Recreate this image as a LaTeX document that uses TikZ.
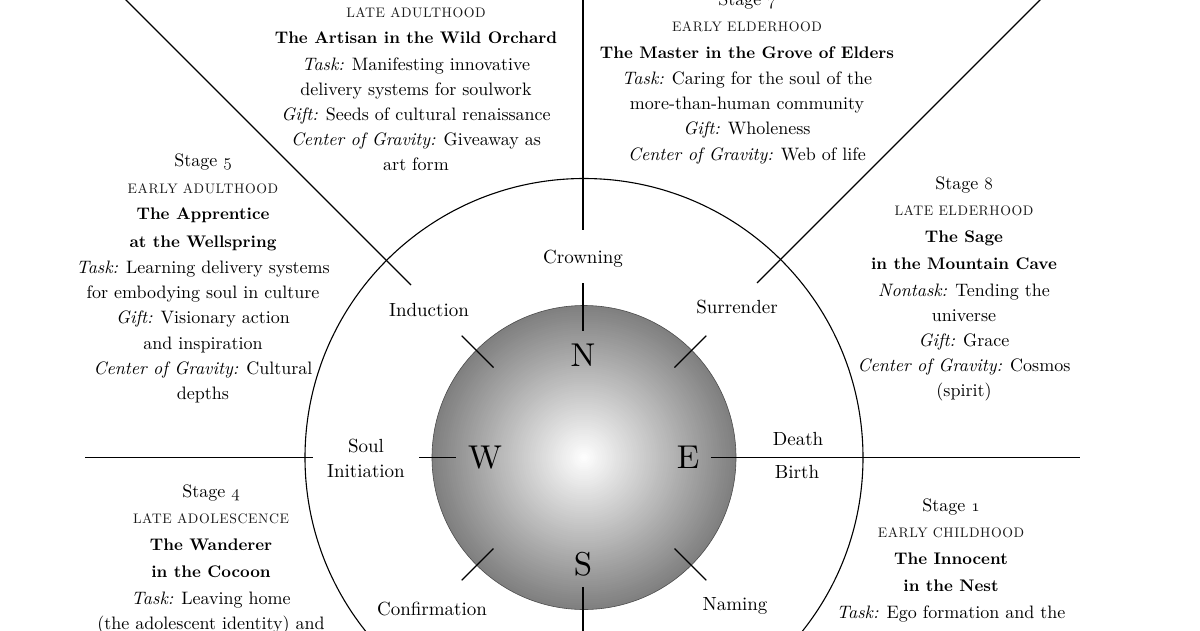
\documentclass[tikz,border=0pt]{standalone}
\usepackage{fontspec}
\setmainfont{lmroman10-regular.otf}[BoldFont=lmroman10-bold.otf, ItalicFont=lmroman10-italic.otf, BoldItalicFont=lmroman10-bolditalic.otf]
\newcommand\osn[1]{{\usefont{OML}{cmm}{m}{it}#1}}
\newcommand\agecap[1]{{\fontsize{13.8}{25}\selectfont\addfontfeature{LetterSpace=4}\color{black!90}#1}}
\newcommand\ttl[1]{{\fontsize{16.8}{25}\bfseries #1}}
\newenvironment{blk}{\fontsize{18}{25.2}\selectfont\begin{tabular}[t]{@{}c@{}}}{\end{tabular}}
\begin{document}
\begin{tikzpicture}[x=1pt,y=-1pt,
  block/.style={anchor=base, inner sep=0pt},
  lbl/.style={anchor=base, inner sep=0pt, font=\fontsize{19}{22}\selectfont},
  dir/.style={anchor=base, inner sep=0pt, font=\fontsize{33}{36}\selectfont},
  ln/.style={line width=1.1pt, black}]
\useasboundingbox (0,0) rectangle (1200,630);
\fill[white] (0,0) rectangle (1200,630);
\clip (0,0) rectangle (1200,630);

\coordinate (c) at (584,457.5);

% outer circle
\draw[ln] (c) circle (279pt);
% sphere: radial gradient from white centre to mid grey rim
\foreach \k [evaluate=\k as \pc using 50*\k/76] in {76,75,...,1}
  \fill[black!\pc] (c) circle [radius={2pt*\k}];
\draw[line width=0.6pt, black!70] (c) circle (152pt);

% long lines
\draw[ln] (583,-5) -- (583,230);
\draw[ln] (411,285) -- (121,-5);
\draw[ln] (757,283) -- (1047,-7);
\draw[ln] (85,457.5) -- (313,457.5);
\draw[ln] (711,457.5) -- (1080,457.5);

% ticks
\draw[ln] (583,283) -- (583,331);
\draw[ln] (583,587) -- (583,640);
\draw[ln] (419,457.5) -- (456,457.5);
\draw[ln] (493.5,367.5) -- (461.7,335.7);
\draw[ln] (674.5,367.5) -- (706.3,335.7);
\draw[ln] (493.5,548.5) -- (461.7,580.3);
\draw[ln] (674.5,548.5) -- (706.3,580.3);

% compass letters
\node[dir] (N) at (583,366.7) {N};
\node[dir] (W) at (485,468) {W};
\node[dir] (E) at (688,468) {E};
\node[dir] (S) at (583,575) {S};

% passage labels
\node[lbl] (crown) at (583,263) {Crowning};
\node[lbl] (induct) at (429,316) {Induction};
\node[lbl] (surr) at (737,313) {Surrender};
\node[lbl] (soul) at (366,452) {Soul};
\node[lbl] (init) at (366,477) {Initiation};
\node[lbl] (death) at (798,445.7) {Death};
\node[lbl] (birth) at (797,478) {Birth};
\node[lbl] (conf) at (432,615) {Confirmation};
\node[lbl] (naming) at (735,610) {Naming};

% stage blocks
\node[block] (s6) at (416,17) {\begin{blk}
\agecap{LATE ADULTHOOD}\\[1.3pt]
\ttl{The Artisan in the Wild Orchard}\\[1.3pt]
\textit{Task:} Manifesting innovative\\
delivery systems for soulwork\\
\textit{Gift:} Seeds of cultural renaissance\\
\textit{Center of Gravity:} Giveaway as\\
art form
\end{blk}};

\node[block] (s7) at (747,5) {\begin{blk}
Stage \osn{7}\\[1.3pt]
\agecap{EARLY ELDERHOOD}\\[1.3pt]
\ttl{The Master in the Grove of Elders}\\[1.3pt]
\textit{Task:} Caring for the soul of the\\
more-than-human community\\
\textit{Gift:} Wholeness\\
\textit{Center of Gravity:} Web of life
\end{blk}};

\node[block] (s5) at (203,166.5) {\begin{blk}
Stage \osn{5}\\[1.3pt]
\agecap{EARLY ADULTHOOD}\\[1.3pt]
\ttl{The Apprentice}\\[2.3pt]
\ttl{at the Wellspring}\\[1.3pt]
\textit{Task:} Learning delivery systems\\
for embodying soul in culture\\
\textit{Gift:} Visionary action\\
and inspiration\\
\textit{Center of Gravity:} Cultural\\
depths
\end{blk}};

\node[block] (s8) at (964,189) {\begin{blk}
Stage \osn{8}\\[1.3pt]
\agecap{LATE ELDERHOOD}\\[1.3pt]
\ttl{The Sage}\\[2.3pt]
\ttl{in the Mountain Cave}\\[1.3pt]
\textit{Nontask:} Tending the\\
universe\\
\textit{Gift:} Grace\\
\textit{Center of Gravity:} Cosmos\\
(spirit)
\end{blk}};

\node[block] (s4) at (211,497) {\begin{blk}
Stage \osn{4}\\[1.3pt]
\agecap{LATE ADOLESCENCE}\\[1.3pt]
\ttl{The Wanderer}\\[2.3pt]
\ttl{in the Cocoon}\\[1.3pt]
\textit{Task:} Leaving home\\
(the adolescent identity) and
\end{blk}};

\node[block] (s1) at (951,511) {\begin{blk}
Stage \osn{1}\\[1.3pt]
\agecap{EARLY CHILDHOOD}\\[1.3pt]
\ttl{The Innocent}\\[2.3pt]
\ttl{in the Nest}\\[1.3pt]
\textit{Task:} Ego formation and the
\end{blk}};
\end{tikzpicture}
\end{document}
